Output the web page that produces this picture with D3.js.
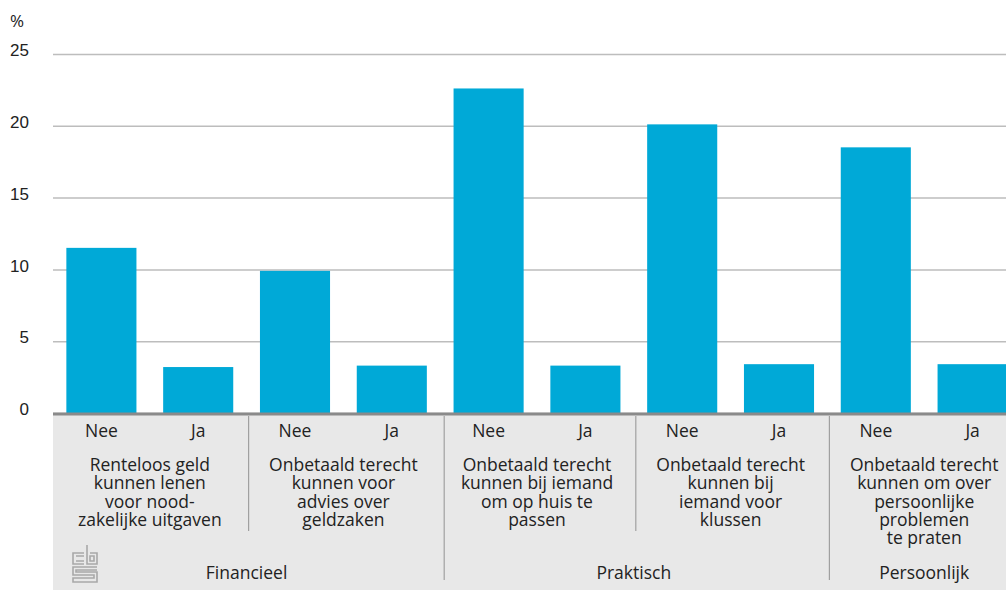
<!DOCTYPE html>
<html>
<head>
<meta charset="utf-8">
<script src="https://cdn.jsdelivr.net/npm/d3@7"></script>
<style>
  body { margin: 0; background: #fff; }
  svg { display: block; font-family: "Open Sans", "Noto Sans", sans-serif; }
  .tick text { fill: #222; font-size: 17px; }
</style>
</head>
<body>
<svg id="chart" width="1006" height="590"></svg>
<script>
// answers per bar, values in %
const answers = ['Nee', 'Ja'];
const values = [11.5, 3.2, 9.9, 3.3, 22.6, 3.3, 20.1, 3.4, 18.5, 3.4];
const yTicks = [0, 5, 10, 15, 20, 25];

// support types, each covers two bars
const categories = [
    ['Renteloos geld', 'kunnen lenen', 'voor nood-', 'zakelijke uitgaven'],
    ['Onbetaald terecht', 'kunnen voor', 'advies over', 'geldzaken'],
    ['Onbetaald terecht', 'kunnen bij iemand', 'om op huis te', 'passen'],
    ['Onbetaald terecht', 'kunnen bij', 'iemand voor', 'klussen'],
    ['Onbetaald terecht', 'kunnen om over', 'persoonlijke', 'problemen', 'te praten']
];

// groups: name and number of categories
const groups = ['Financieel', 'Praktisch', 'Persoonlijk'];
const groupSizes = [2, 2, 1];

const blue = '#00a9d7';
const panelGrey = '#e8e8e8';
const fs = '17.5px';

const svg = d3.select('#chart');
const left = 53, right = 1021;
const y0 = 413;

const idx = d3.range(values.length);

const x = d3.scaleBand()
    .domain(idx)
    .range([left, right])
    .paddingInner(0.276)
    .paddingOuter(0.138);

const y = d3.scaleLinear()
    .domain([0, 25])
    .range([y0, 54]);

// grey panel under the axis
svg.append('rect')
    .attr('x', left)
    .attr('y', y0)
    .attr('width', 1006 - left)
    .attr('height', 590 - y0)
    .attr('fill', panelGrey);

// gridlines + labels
const yAxis = d3.axisLeft(y)
    .tickValues(yTicks)
    .tickSize(-(1006 - left))
    .tickPadding(24);

const gY = svg.append('g')
    .attr('transform', `translate(${left},0)`)
    .call(yAxis);
gY.select('.domain').remove();
gY.selectAll('.tick line')
    .attr('stroke', '#bdbdbd')
    .attr('stroke-width', 1.5);
gY.selectAll('.tick text')
    .attr('x', -24)
    .attr('dy', '0.1em');

svg.append('text')
    .attr('x', 10)
    .attr('y', 27)
    .attr('fill', '#222')
    .style('font-size', '17px')
    .text('%');

// bars
svg.append('g')
    .selectAll('rect')
    .data(values)
    .join('rect')
    .attr('x', (d, i) => x(i))
    .attr('y', d => y(d))
    .attr('width', x.bandwidth())
    .attr('height', d => y(0) - y(d))
    .attr('fill', blue);

// axis baseline
svg.append('line')
    .attr('x1', left)
    .attr('x2', 1006)
    .attr('y1', y0 + 1)
    .attr('y2', y0 + 1)
    .attr('stroke', '#8a8a8a')
    .attr('stroke-width', 3);

const step = x.step();
const edge = i => left + i * step; // boundary before band i

// Nee / Ja labels
svg.append('g')
    .selectAll('text')
    .data(idx)
    .join('text')
    .attr('x', i => x(i) + x.bandwidth() / 2)
    .attr('y', 437)
    .attr('text-anchor', 'middle')
    .attr('fill', '#222')
    .style('font-size', fs)
    .text(i => answers[i % 2]);

// category labels, one text per line
const catG = svg.append('g');
categories.forEach((lines, c) => {
    const cx = (edge(c * 2) + edge(c * 2 + 2)) / 2;
    catG.selectAll(null)
        .data(lines)
        .join('text')
        .attr('x', cx)
        .attr('y', (l, k) => 471 + k * 18.3)
        .attr('text-anchor', 'middle')
        .attr('fill', '#222')
        .style('font-size', fs)
        .text(l => l);
});

// separators and group labels
let pos = 0;
const groupEdges = [];
groupSizes.forEach(n => { pos += n; groupEdges.push(pos); });

d3.range(1, categories.length).forEach(c => {
    const major = groupEdges.includes(c);
    const sx = edge(c * 2) + (c === 2 ? 4 : 2);
    svg.append('line')
        .attr('x1', sx).attr('x2', sx)
        .attr('y1', y0 + 3)
        .attr('y2', major ? 580 : 531)
        .attr('stroke', '#a0a0a0')
        .attr('stroke-width', 1.2);
});

let start = 0;
groups.forEach((g, gi) => {
    const end = start + groupSizes[gi];
    svg.append('text')
        .attr('x', (edge(start * 2) + edge(end * 2)) / 2)
        .attr('y', 579)
        .attr('text-anchor', 'middle')
        .attr('fill', '#222')
        .style('font-size', fs)
        .text(g);
    start = end;
});

// cbs logo, rough
const logo = svg.append('g')
    .attr('fill', 'none')
    .attr('stroke', '#a8a8a8')
    .attr('stroke-width', 1.6);
logo.append('path').attr('d', 'M84,553 H73 V564 H84 M76,556 H84 M76,561 H84');
logo.append('path').attr('d', 'M87,545 V564 H97 V553 H90 M90,556 V561 H94 V556 Z');
logo.append('path').attr('d', 'M97,567 H73 V575 H94 V578 H73 V582 H97 V572 H76 V570 H97');
</script>
</body>
</html>
